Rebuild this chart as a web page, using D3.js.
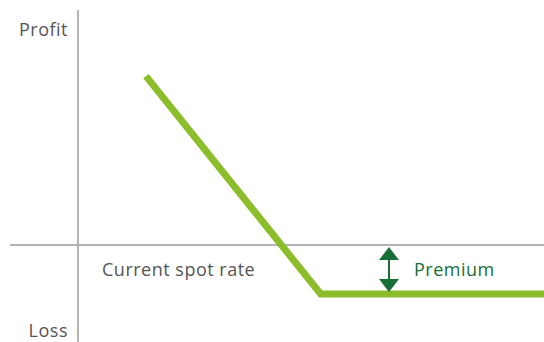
<!DOCTYPE html>
<html><head><meta charset="utf-8">
<script src="https://cdn.jsdelivr.net/npm/d3@7"></script>
<style>html,body{margin:0;padding:0;background:#fff;}svg{display:block;}</style>
</head><body>
<script>
// Data
const spotRates = [1.4, 5.0, 9.6];       // underlying rate (x)
const payoff = [3.45, -1.0, -1.0];        // profit / loss (y)
const premium = -1.0;
const axisLabels = ["Profit", "Loss"];
const spotLabel = "Current spot rate";
const premiumLabel = "Premium";

(function () {
const W = 544, H = 342;
const svg = d3.select("body").append("svg").attr("width", W).attr("height", H);
const x = d3.scaleLinear().domain([-1.4, 9.6]).range([10, 544]);
const y = d3.scaleLinear().domain([-2.0, 4.8]).range([343, 10]);
const font = "'Open Sans', 'Noto Sans', sans-serif";

// axes
svg.append("line").attr("x1", x(0)).attr("x2", x(0)).attr("y1", y(4.8)).attr("y2", H)
  .attr("stroke", "#b3b3b3").attr("stroke-width", 2);
svg.append("line").attr("x1", x(-1.4)).attr("x2", W).attr("y1", y(0)).attr("y2", y(0))
  .attr("stroke", "#b3b3b3").attr("stroke-width", 2);

// payoff line
const pts = spotRates.map((s, i) => [s, payoff[i]]);
svg.append("path").datum(pts)
  .attr("d", d3.line().x(d => x(d[0])).y(d => y(d[1])))
  .attr("fill", "none").attr("stroke", "#8cbd2b").attr("stroke-width", 7)
  .attr("stroke-linejoin", "miter");

// premium arrow
const ax = 389, yTop = y(0) + 2, yBot = y(premium) - 2, hw = 10, hh = 13;
const dg = "#176f37";
svg.append("line").attr("x1", ax).attr("x2", ax).attr("y1", yTop + hh - 1).attr("y2", yBot - hh + 1)
  .attr("stroke", dg).attr("stroke-width", 2);
svg.append("path").attr("d", `M${ax},${yTop} L${ax+hw},${yTop+hh} L${ax-hw},${yTop+hh} Z`).attr("fill", dg);
svg.append("path").attr("d", `M${ax},${yBot} L${ax+hw},${yBot-hh} L${ax-hw},${yBot-hh} Z`).attr("fill", dg);

// labels
const lbl = (t, xx, yy, anchor, col) => svg.append("text").attr("x", xx).attr("y", yy)
  .attr("text-anchor", anchor).attr("font-family", font).attr("font-size", 18)
  .attr("letter-spacing", 0.5).attr("fill", col).text(t);
lbl(axisLabels[0], 68, 36, "end", "#555");
lbl(axisLabels[1], 68, 337, "end", "#555");
lbl(spotLabel, 102, 276, "start", "#555");
lbl(premiumLabel, 414, 276, "start", dg);
})();
</script>
</body></html>
